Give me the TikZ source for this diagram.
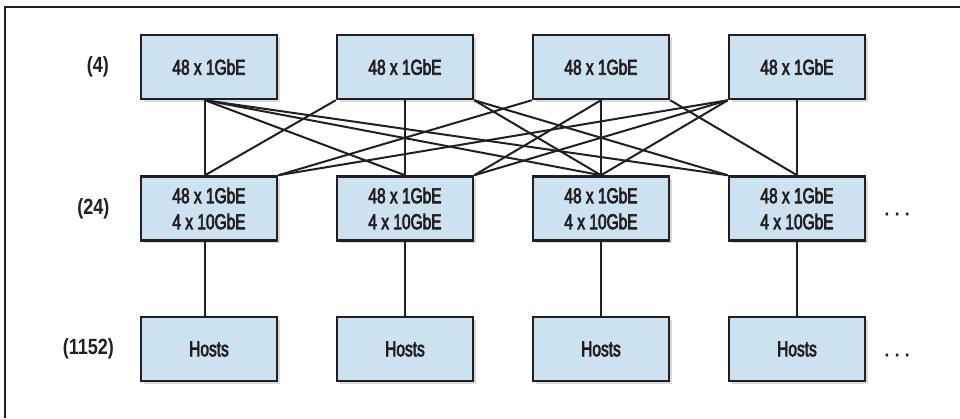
\documentclass[tikz,border=0pt]{standalone}
\usepackage{fontspec}
\setmainfont{Liberation Sans}[FakeStretch=0.72, FakeBold=3]
\newfontfamily\lblfont{Liberation Sans}[FakeStretch=0.82]
\newfontfamily\dotfont{Liberation Sans}[FakeBold=3]
\usetikzlibrary{shadows}
\definecolor{boxfill}{RGB}{205,226,240}
\definecolor{ink}{RGB}{35,31,32}
\begin{document}
\begin{tikzpicture}[x=1pt,y=-1pt,
  sw/.style={draw=ink, line width=2.5pt, fill=boxfill, minimum width=136pt, minimum height=64pt,
    inner sep=0pt, align=center, font=\fontsize{21.5}{26}\selectfont, text=ink,
    drop shadow={shadow xshift=2.5pt, shadow yshift=-2.5pt, opacity=0.3}},
  lbl/.style={anchor=east, font=\lblfont\bfseries\fontsize{22}{24}\selectfont, text=ink},
  more/.style={anchor=base, font=\dotfont\fontsize{20}{24}\selectfont, text=ink},
  link/.style={draw=ink, line width=2pt},
  frame/.style={draw=ink, line width=1.5pt}]
\useasboundingbox (0,0) rectangle (960,418);
% frame
\coordinate (fbl) at (5,418);
\coordinate (ftl) at (5,7);
\coordinate (ftr) at (960,7);
\draw[frame] (fbl) -- (ftl) -- (ftr);
% top row
\node[sw] (T1) at (209,67) {48 x 1GbE};
\node[sw] (T2) at (405,67) {48 x 1GbE};
\node[sw] (T3) at (601,67) {48 x 1GbE};
\node[sw] (T4) at (797,67) {48 x 1GbE};
% middle row
\node[sw] (M1) at (209,208.5) {48 x 1GbE\\4 x 10GbE};
\node[sw] (M2) at (405,208.5) {48 x 1GbE\\4 x 10GbE};
\node[sw] (M3) at (601,208.5) {48 x 1GbE\\4 x 10GbE};
\node[sw] (M4) at (797,208.5) {48 x 1GbE\\4 x 10GbE};
% bottom row
\node[sw] (H1) at (209,349) {Hosts};
\node[sw] (H2) at (405,349) {Hosts};
\node[sw] (H3) at (601,349) {Hosts};
\node[sw] (H4) at (797,349) {Hosts};
% labels
\node[lbl] (L1) at (112.5,67) {(4)};
\node[lbl] (L2) at (113,208.5) {(24)};
\node[lbl] (L3) at (117.5,349) {(1152)};
\node[more] (D1) at (897,215) {.\hspace{4.5pt}.\hspace{4.5pt}.};
\node[more] (D2) at (897,356) {.\hspace{4.5pt}.\hspace{4.5pt}.};
% links top -> middle
\draw[link] ([xshift=-4pt]T1.south) -- ([xshift=-4pt]M1.north);
\draw[link] ([xshift=-4pt]T1.south) -- (M2.north);
\draw[link] ([xshift=-4pt]T1.south) -- (M3.north);
\draw[link] ([xshift=-4pt]T1.south) -- (M4.north west);
\draw[link] (T2.south west) -- ([xshift=-4pt]M1.north);
\draw[link] (T2.south) -- (M2.north);
\draw[link] (T2.south east) -- (M3.north);
\draw[link] (T2.south east) -- (M4.north west);
\draw[link] (T3.south west) -- (M1.north east);
\draw[link] (T3.south) -- (M2.north east);
\draw[link] (T3.south) -- (M3.north);
\draw[link] (T3.south east) -- (M4.north);
\draw[link] (T4.south west) -- (M1.north east);
\draw[link] (T4.south west) -- (M2.north east);
\draw[link] (T4.south west) -- (M3.north);
\draw[link] (T4.south) -- (M4.north);
% links middle -> hosts
\draw[link] ([xshift=-4pt]M1.south) -- ([xshift=-4pt]H1.north);
\draw[link] (M2.south) -- (H2.north);
\draw[link] (M3.south) -- (H3.north);
\draw[link] (M4.south) -- (H4.north);
\end{tikzpicture}
\end{document}
